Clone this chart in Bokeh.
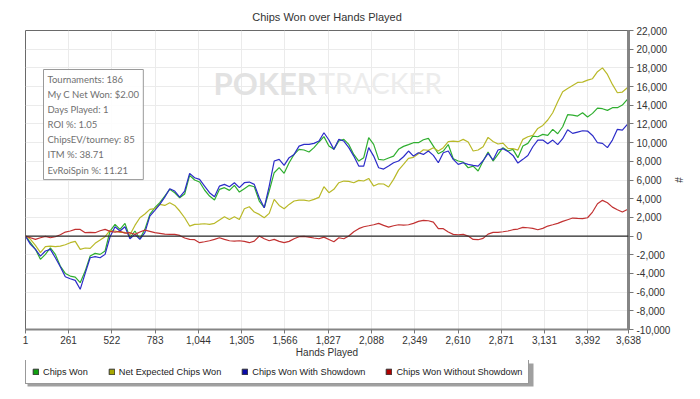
from bokeh.plotting import figure
from bokeh.layouts import column
from bokeh.models import (Range1d, FixedTicker, NumeralTickFormatter, Span, Label,
                          Legend, LegendItem, BoxAnnotation)
from bokeh.embed import file_html
from bokeh.resources import INLINE

# ---------------- data (chip values, in thousands) ----------------
hands = list(range(1, 3638, 30)) + [3638]

chips_won_k = [
    0, -0.71, -1.42, -2.49, -1.96, -1.25, -1.96, -3.21, -4.0, -4.28, -4.39, -4.99, -3.75, -2.14, -1.85, -1.96,
    -1.6, 0.54, 1.25, 0.72, 1.36, -0.18, 0.54, -0.29, 0.72, 2.32, 3.03, 3.57, 4.28, 5.0, 4.64, 4.1,
    4.5, 6.5, 6.0, 5.78, 4.93, 4.28, 3.85, 5.0, 5.18, 4.89, 5.43, 4.71, 5.07, 5.43, 5.28, 3.75, 3.03, 4.82,
    6.78, 7.32, 6.71, 7.85, 8.74, 9.28, 9.21, 9.0, 9.46, 10.07, 10.64, 9.64,
    9.28, 10.17, 10.35, 9.81, 8.74, 8.03, 8.39, 10.53, 9.81, 8.21, 8.14, 8.35, 8.56, 9.28, 9.6, 9.78, 9.99,
    9.99, 10.31, 10.46, 9.63, 8.81, 9.1, 9.8, 8.28, 8.03, 7.92, 7.31, 7.49, 6.96,
    8.03, 8.99, 8.03, 8.74, 9.46, 9.1, 9.28, 8.39, 9.63, 9.92, 10.7, 10.63, 10.88, 10.77, 11.42, 10.95, 11.7,
    12.99, 12.95, 12.84, 13.2, 12.74, 13.13, 13.7, 13.63, 13.45, 13.74, 13.74, 14.02, 14.63, 14.8,
]

net_expected_k = [
    0, -0.35, -1.0, -1.78, -1.14, -1.07, -1.14, -1.07, -0.93, -0.71, -0.57, -1.42, -1.28, -1.32, -0.78, -0.43,
    -0.07, 0.61, 0.54, 0.39, 0.39, 0.14, 1.14, 1.96, 2.36, 2.86, 2.93, 3.39, 3.28, 3.57, 3.28, 2.68,
    1.96, 1.07, 1.25, 1.28, 1.32, 1.25, 1.36, 1.71, 2.07, 1.78, 2.07, 1.78, 2.93, 3.14, 2.57, 2.32, 1.96, 2.43,
    3.93, 3.28, 2.93, 3.39, 3.75, 3.85, 3.85, 3.75, 3.93, 4.14, 5.28, 4.64,
    5.0, 5.71, 5.89, 5.85, 5.71, 5.96, 5.89, 6.17, 5.35, 5.6, 5.57, 5.25, 6.07, 7.06, 7.67, 8.31, 8.42,
    8.81, 9.24, 9.17, 9.46, 9.1, 9.46, 10.1, 10.17, 10.1, 10.35, 10.06, 9.1, 9.21,
    9.56, 10.56, 10.13, 9.85, 9.95, 9.38, 9.35, 9.2, 10.35, 10.63, 10.77, 11.52, 11.84, 12.42, 13.2, 14.38,
    15.45, 15.8, 16.12, 16.44, 16.48, 16.69, 16.84, 17.59, 18.0, 17.3, 16.23, 15.34, 15.41, 15.87, 16.05,
]

with_showdown_k = [
    0, -0.89, -1.42, -2.14, -1.6, -1.42, -2.32, -3.28, -4.35, -4.57, -4.74, -5.7, -4.0, -2.32, -2.21, -2.32,
    -1.96, -0.07, 1.0, 0.54, 1.0, -0.29, 0.18, -0.36, 0.36, 2.14, 2.75, 3.39, 4.17, 5.07, 4.82, 4.17,
    4.82, 6.71, 6.24, 6.07, 5.35, 4.64, 4.21, 5.35, 5.53, 5.28, 5.71, 5.18, 5.71, 5.78, 5.53, 4.1, 3.03, 5.35,
    8.03, 8.21, 7.57, 8.39, 8.74, 9.63, 9.81, 9.81, 9.92, 10.17, 11.06, 10.28,
    9.28, 10.35, 10.17, 9.46, 8.56, 7.49, 7.49, 9.46, 8.56, 7.31, 7.17, 7.49, 7.85, 8.03, 8.49, 9.1, 8.56,
    8.92, 8.74, 9.1, 8.64, 7.85, 8.92, 9.1, 8.21, 7.67, 7.85, 7.67, 7.56, 7.49,
    8.06, 8.85, 8.14, 9.21, 9.35, 9.06, 8.63, 7.81, 8.21, 8.63, 9.56, 10.27, 10.27, 9.88, 10.27, 9.78, 10.42,
    11.38, 10.99, 11.13, 11.27, 11.24, 10.77, 9.99, 9.92, 9.46, 10.27, 11.42, 11.34, 11.95, 12.13,
]

without_showdown_k = [
    0, -0.18, -0.36, -0.18, -0.04, -0.18, -0.07, 0.14, 0.43, 0.54, 0.71, 0.71, 0.36, 0.39, 0.36, 0.57,
    0.71, 0.5, 0.43, 0.5, 0.32, 0.36, 0.18, 0.43, 0.64, 0.5, 0.36, 0.29, 0.21, 0.18, 0.18, 0.07,
    -0.21, -0.36, -0.39, -0.71, -0.61, -0.5, -0.36, -0.18, -0.36, -0.5, -0.54, -0.5, -0.57, -0.71, -0.54, 0,
    -0.29, -0.5, -0.36, -0.57, -0.71, -0.57, -0.29, -0.07, -0.04, -0.11, -0.21, -0.29, -0.11, -0.36,
    -0.61, -0.18, -0.29, 0, 0.46, 0.79, 1.0, 1.1, 1.21, 1.36, 1.14, 0.96, 1.1, 1.21, 1.18, 1.21, 1.36,
    1.57, 1.68, 1.64, 1.5, 0.79, 0.79, 0.43, 0.18, 0.14, 0.18, 0, -0.36, -0.39,
    -0.25, 0.21, 0.39, 0.39, 0.46, 0.54, 0.68, 0.75, 0.93, 0.89, 0.82, 0.68, 0.82, 1.07, 1.21, 1.36, 1.57,
    1.75, 1.93, 1.89, 1.86, 1.96, 2.57, 3.46, 3.82, 3.57, 3.1, 2.82, 2.57, 2.85, 2.93,
]

x_ticks = [1, 261, 522, 783, 1044, 1305, 1566, 1827, 2088, 2349, 2610, 2871, 3131, 3392, 3638]
y_ticks = list(range(-10000, 22001, 2000))

series_names = ["Chips Won", "Net Expected Chips Won", "Chips Won With Showdown", "Chips Won Without Showdown"]
series_k = [chips_won_k, net_expected_k, with_showdown_k, without_showdown_k]
line_colors = ["#2fae2f", "#b9b928", "#2c2cc8", "#c23232"]
box_colors = ["#10a010", "#a8a800", "#0a0aa8", "#b00000"]

info_lines = ["Tournaments: 186", "My C Net Won: $2.00", "Days Played: 1", "ROI %: 1.05",
              "ChipsEV/tourney: 85", "ITM %: 38.71", "EvRoiSpin %: 11.21"]

FONT = "Liberation Sans"
NAN = float("nan")

# ---------------- main figure ----------------
p = figure(width=700, height=360, output_backend="svg", toolbar_location=None,
           x_range=Range1d(1, 3638), y_range=Range1d(-10000, 22000),
           y_axis_location="right",
           min_border_left=25, min_border_right=72, min_border_top=30, min_border_bottom=31,
           background_fill_color="white", border_fill_color="white")

p.title.text = "Chips Won over Hands Played"
p.title.align = "center"
p.title.text_font = FONT
p.title.text_font_size = "11px"
p.title.text_font_style = "normal"
p.title.text_color = "#333333"
p.title.offset = 0
p.title.standoff = 15

p.outline_line_color = "#6a6a6a"
p.outline_line_width = 1

# grids
p.xgrid.ticker = FixedTicker(ticks=x_ticks)
p.ygrid.ticker = FixedTicker(ticks=y_ticks)
p.xgrid.grid_line_color = "#ebebeb"
p.ygrid.grid_line_color = "#ebebeb"

# watermark
wm2 = Label(x=293, y=247, x_units="screen", y_units="screen", text="TRACKER",
            text_font="Lato", text_font_size="28px",
            text_color="#ececec", text_baseline="alphabetic", level="underlay")
wm1 = Label(x=188, y=247, x_units="screen", y_units="screen", text="POKER",
            text_font="Lato", text_font_style="bold", text_font_size="31px",
            text_color="#e2e2e2", text_baseline="alphabetic", level="underlay")
p.add_layout(wm2)
p.add_layout(wm1)

# axes
ax = p.yaxis[0]
ax.ticker = FixedTicker(ticks=y_ticks)
ax.formatter = NumeralTickFormatter(format="0,0")
ax.axis_line_color = "#858585"
ax.axis_line_width = 3
ax.major_tick_line_color = "#777777"
ax.major_tick_out = 5
ax.major_tick_in = 0
ax.minor_tick_line_color = None
ax.major_label_text_font = FONT
ax.major_label_text_font_size = "10px"
ax.major_label_text_color = "#333333"
ax.major_label_standoff = 3
ax.axis_label = "#"
ax.axis_label_text_font = FONT
ax.axis_label_text_font_size = "10px"
ax.axis_label_text_font_style = "normal"
ax.axis_label_text_color = "#333333"
ax.axis_label_standoff = 0

xa = p.xaxis[0]
xa.ticker = FixedTicker(ticks=x_ticks)
xa.formatter = NumeralTickFormatter(format="0,0")
xa.axis_line_color = "#858585"
xa.axis_line_width = 2
xa.major_tick_line_color = "#777777"
xa.major_tick_out = 4
xa.major_tick_in = 0
xa.minor_tick_line_color = None
xa.major_label_text_font = FONT
xa.major_label_text_font_size = "10px"
xa.major_label_text_color = "#333333"
xa.major_label_standoff = 2
xa.axis_label = "Hands Played"
xa.axis_label_text_font = FONT
xa.axis_label_text_font_size = "10px"
xa.axis_label_text_font_style = "normal"
xa.axis_label_text_color = "#333333"
xa.axis_label_standoff = 0

# zero line
p.add_layout(Span(location=0, dimension="width", line_color="#2a2a2a", line_width=1.3))

# series
for vals_k, col in zip(series_k, line_colors):
    p.line(hands, [v * 1000 for v in vals_k], line_color=col, line_width=1.2)

# info box
info = Label(x=18, y=260, x_units="screen", y_units="screen", text="\n".join(info_lines),
             anchor="top_left", text_font="Lato", text_font_size="9.5px",
             text_color="#707070", text_line_height=1.38,
             border_line_color="#9a9a9a", border_line_width=1,
             background_fill_color="white", background_fill_alpha=0.9, padding=4)
p.add_layout(info)

# ---------------- legend strip below (its frame is aligned with the main frame) ----------------
lf = figure(width=700, height=39, output_backend="svg", toolbar_location=None,
            x_range=Range1d(0, 1), y_range=Range1d(0, 1),
            x_axis_location=None, y_axis_location=None,
            min_border_left=25, min_border_right=72, min_border_top=0, min_border_bottom=0,
            background_fill_color="white", border_fill_color="white")
lf.outline_line_color = None
lf.xgrid.visible = False
lf.ygrid.visible = False

# legend shadow
lf.add_layout(BoxAnnotation(left=27, right=533, top=3, bottom=26,
                            left_units="canvas", right_units="canvas",
                            top_units="canvas", bottom_units="canvas",
                            fill_color="#a0a0a0", fill_alpha=1, line_color=None,
                            level="underlay"))

items = []
for name, col in zip(series_names, box_colors):
    r = lf.quad(left=[NAN], right=[NAN], top=[NAN], bottom=[NAN], fill_color=col, line_color="#333333")
    items.append(LegendItem(label=name, renderers=[r]))
legend = Legend(items=items, orientation="horizontal", location=(0, 15),
                border_line_color="#333333", border_line_width=1,
                background_fill_color="white", background_fill_alpha=1,
                label_text_font=FONT, label_text_font_size="9.2px", label_text_color="#222222",
                glyph_width=7, glyph_height=7, label_height=11, label_standoff=4,
                spacing=20, padding=6, margin=0)
lf.add_layout(legend)

layout = column(p, lf, spacing=0)
open("out.html", "w").write(file_html(layout, INLINE))
